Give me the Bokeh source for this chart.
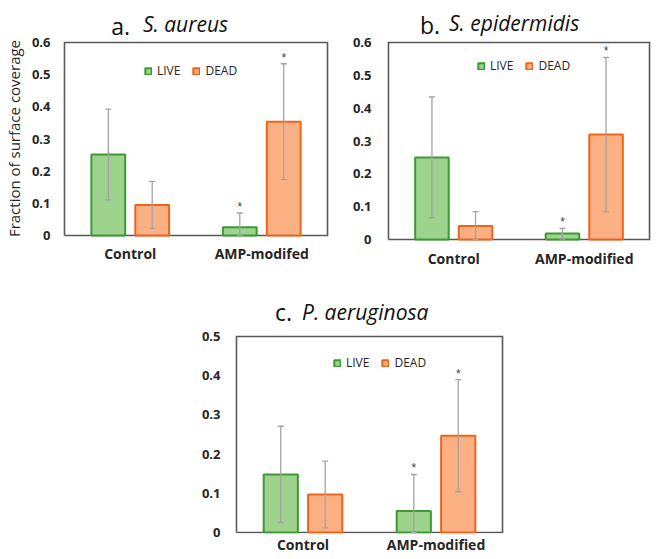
from bokeh.plotting import figure
from bokeh.models import (ColumnDataSource, FactorRange, Range1d, FixedTicker, NumeralTickFormatter,
                          Whisker, TeeHead, Legend, LegendItem, Spacer)
from bokeh.core.properties import value
from bokeh.transform import dodge
from bokeh.layouts import column, row
from bokeh.embed import file_html
from bokeh.resources import INLINE

# ---------------- data ----------------
cats_a = ["Control", "AMP-modifed"]
cats_bc = ["Control", "AMP-modified"]
stars = ["", "*"]

a_live = [0.252, 0.026]
a_live_err = [0.141, 0.044]
a_dead = [0.095, 0.354]
a_dead_err = [0.073, 0.180]

b_live = [0.250, 0.018]
b_live_err = [0.184, 0.016]
b_dead = [0.041, 0.320]
b_dead_err = [0.044, 0.235]

c_live = [0.148, 0.055]
c_live_err = [0.123, 0.093]
c_dead = [0.097, 0.247]
c_dead_err = [0.085, 0.143]

y_ticks_a = [0, 0.1, 0.2, 0.3, 0.4, 0.5, 0.6]
y_ticks_b = [0, 0.1, 0.2, 0.3, 0.4, 0.5, 0.6]
y_ticks_c = [0, 0.1, 0.2, 0.3, 0.4, 0.5]

# ---------------- style ----------------
FONT = "Open Sans"
GREEN_FILL, GREEN_LINE = "#9dd38d", "#3c9a32"
ORANGE_FILL, ORANGE_LINE = "#fbb083", "#f0641a"
ERR = "#a3a3a3"
TXT = "#262626"
OFF = 0.167
BW = 0.257
PAGE_X = 8  # horizontal page margin


def panel(cats, live, live_err, dead, dead_err, yticks, ymax, box, canvas_left, canvas_top,
          canvas_w, canvas_h, frame_bottom, title, leg_glyph, xstand, ystand, ylabel=None):
    bl_, bt_, br_, bb_ = box            # plot-area box in page pixels
    bw, bh = br_ - bl_, bb_ - bt_
    nc = len(cats)
    pad = 1                              # frame is 1px wider than the box on each side
    min_left = bl_ - pad - canvas_left
    fw = bw + 2 * pad
    min_right = canvas_w - min_left - fw
    fh = frame_bottom - canvas_top
    min_bottom = canvas_h - fh

    def sx(px):
        return nc * (px - bl_) / bw

    def sy(py):
        return ymax * (bb_ - py) / bh

    p = figure(x_range=FactorRange(*cats, range_padding=2 * pad * nc / bw,
                                   range_padding_units="absolute"),
               y_range=Range1d(sy(frame_bottom), sy(canvas_top)),
               frame_width=fw, frame_height=fh, min_border_left=min_left,
               min_border_right=min_right, min_border_top=0, min_border_bottom=min_bottom,
               output_backend="svg", toolbar_location=None, tools="", title=None)
    p.xgrid.visible = False
    p.ygrid.visible = False
    p.outline_line_color = None

    # plot-area border drawn as a closed line around the value range
    p.line(x=[0, 0, nc, nc, 0], y=[0, ymax, ymax, 0, 0], line_color="#595959",
           line_width=1.6, line_join="miter")

    for ax in (p.xaxis[0], p.yaxis[0]):
        ax.axis_line_color = None
        ax.major_tick_line_color = None
        ax.minor_tick_line_color = None
        ax.major_tick_out = 0
        ax.major_tick_in = 0
        ax.major_label_text_font = FONT
        ax.major_label_text_font_style = "bold"
        ax.major_label_text_color = TXT
    p.xaxis.major_label_text_font_size = "14px"
    p.xaxis.major_label_standoff = xstand
    p.yaxis.major_label_text_font_size = "13px"
    p.yaxis.major_label_standoff = ystand
    p.yaxis.ticker = FixedTicker(ticks=yticks)
    p.yaxis.formatter = NumeralTickFormatter(format="0.[0]")
    if ylabel:
        p.yaxis.axis_label = ylabel
        p.yaxis.axis_label_text_font = FONT
        p.yaxis.axis_label_text_font_style = "normal"
        p.yaxis.axis_label_text_font_size = "15px"
        p.yaxis.axis_label_text_color = TXT
        p.yaxis.axis_label_standoff = 5

    live_lo = [max(0.0, v - e) for v, e in zip(live, live_err)]
    live_hi = [v + e for v, e in zip(live, live_err)]
    dead_lo = [max(0.0, v - e) for v, e in zip(dead, dead_err)]
    dead_hi = [v + e for v, e in zip(dead, dead_err)]
    src = ColumnDataSource(dict(cat=cats, live=live, dead=dead, live_lo=live_lo, live_hi=live_hi,
                                dead_lo=dead_lo, dead_hi=dead_hi, star=stars))

    r_live = p.vbar(x=dodge("cat", -OFF, range=p.x_range), top="live", width=BW, source=src,
                    fill_color=GREEN_FILL, line_color=GREEN_LINE, line_width=2)
    r_dead = p.vbar(x=dodge("cat", OFF, range=p.x_range), top="dead", width=BW, source=src,
                    fill_color=ORANGE_FILL, line_color=ORANGE_LINE, line_width=2)

    for off, lo, hi in ((-OFF, "live_lo", "live_hi"), (OFF, "dead_lo", "dead_hi")):
        w = Whisker(base=dodge("cat", off, range=p.x_range), upper=hi, lower=lo, source=src,
                    line_color=ERR, line_width=1.3, level="overlay",
                    upper_head=TeeHead(size=6, line_color=ERR, line_width=1.3),
                    lower_head=TeeHead(size=6, line_color=ERR, line_width=1.3))
        p.add_layout(w)
        p.text(x=dodge("cat", off, range=p.x_range), y=hi, text="star", source=src,
               text_font_size="12px", text_color="#404040", text_align="center",
               text_baseline="bottom", y_offset=1)

    # title: regular panel letter + italic species name
    letter, species, l_right, l_base, s_left, s_base = title
    p.text(x=[sx(l_right)], y=[sy(l_base)], text=[letter], text_font=value(FONT),
           text_font_size="23px", text_align="right", text_baseline="alphabetic",
           text_color="#111111")
    p.text(x=[sx(s_left)], y=[sy(s_base)], text=[species], text_font=value(FONT),
           text_font_style="italic", text_font_size="21px", text_align="left",
           text_baseline="alphabetic", text_color="#111111")

    gx, gy = leg_glyph
    leg = Legend(items=[LegendItem(label="LIVE", renderers=[r_live]),
                        LegendItem(label="DEAD", renderers=[r_dead])],
                 orientation="horizontal", location=(gx - bl_ + pad, frame_bottom - (gy + 9)),
                 glyph_width=8, glyph_height=8, label_standoff=5, spacing=12,
                 padding=0, margin=0, label_height=12, label_text_font=FONT,
                 label_text_font_size="12px", label_text_color=TXT,
                 border_line_color=None, background_fill_alpha=0)
    p.add_layout(leg, "center")
    return p


pa = panel(cats_a, a_live, a_live_err, a_dead, a_dead_err, y_ticks_a, 0.6,
           (68, 42, 333, 235), PAGE_X, 0, 328, 270, 241,
           ("a.", "S. aureus", 134, 25, 147, 23), (149, 70), xstand=2, ystand=12,
           ylabel="Fraction of surface coverage" + "\u00a0" * 9)
pb = panel(cats_bc, b_live, b_live_err, b_dead, b_dead_err, y_ticks_b, 0.6,
           (392, 42, 655, 239), PAGE_X + 328, 0, 322, 270, 241,
           ("b.", "S. epidermidis", 444, 24, 453, 22.5), (482, 65), xstand=7, ystand=15)
pc = panel(cats_bc, c_live, c_live_err, c_dead, c_dead_err, y_ticks_c, 0.5,
           (243, 336, 511, 532), PAGE_X + 185, 270, 328, 283, 533,
           ("c.", "P. aeruginosa", 299, 311.5, 309, 311.5), (341, 362), xstand=1, ystand=14)

layout = column(row(pa, pb), row(Spacer(width=185, height=283), pc))

open("out.html", "w").write(file_html(layout, INLINE))
